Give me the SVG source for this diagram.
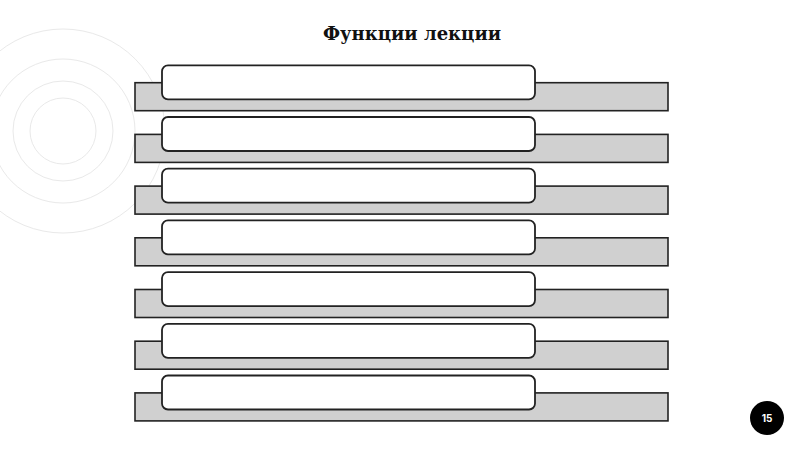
<svg xmlns="http://www.w3.org/2000/svg" width="800" height="450" viewBox="0 0 800 450">
<style>
.ring{fill:none;stroke:#e9e9e9;stroke-width:1}
.bar{fill:#d0d0d0;stroke:#222;stroke-width:1.6}
.box{fill:#fff;stroke:#222;stroke-width:1.8}
.title{font-family:"DejaVu Serif","Liberation Serif",serif;font-weight:bold;font-size:18px;fill:#111}
</style>
<rect width="800" height="450" fill="#fff"/>
<g id="rings">
<circle class="ring" cx="63" cy="131" r="33"/>
<circle class="ring" cx="63" cy="131" r="50"/>
<circle class="ring" cx="63" cy="131" r="72"/>
<circle class="ring" cx="63" cy="131" r="102"/>
</g>
<text class="title" x="412" y="40" text-anchor="middle">Функции лекции</text>
<g id="row1"><rect class="bar" x="135" y="82.7" width="533" height="28"/><rect class="box" x="162" y="65.3" width="373" height="34" rx="6"/></g>
<g id="row2"><rect class="bar" x="135" y="134.4" width="533" height="28"/><rect class="box" x="162" y="117" width="373" height="34" rx="6"/></g>
<g id="row3"><rect class="bar" x="135" y="186.1" width="533" height="28"/><rect class="box" x="162" y="168.7" width="373" height="34" rx="6"/></g>
<g id="row4"><rect class="bar" x="135" y="237.8" width="533" height="28"/><rect class="box" x="162" y="220.4" width="373" height="34" rx="6"/></g>
<g id="row5"><rect class="bar" x="135" y="289.5" width="533" height="28"/><rect class="box" x="162" y="272.1" width="373" height="34" rx="6"/></g>
<g id="row6"><rect class="bar" x="135" y="341.2" width="533" height="28"/><rect class="box" x="162" y="323.8" width="373" height="34" rx="6"/></g>
<g id="row7"><rect class="bar" x="135" y="392.9" width="533" height="28"/><rect class="box" x="162" y="375.5" width="373" height="34" rx="6"/></g>
<g id="connectors"></g>
<g id="page">
<circle cx="767" cy="418" r="17" fill="#000"/>
<text x="767" y="421.5" text-anchor="middle" font-family="Inter,'Liberation Sans',sans-serif" font-weight="bold" font-size="10" fill="#fff">15</text>
</g>
</svg>
